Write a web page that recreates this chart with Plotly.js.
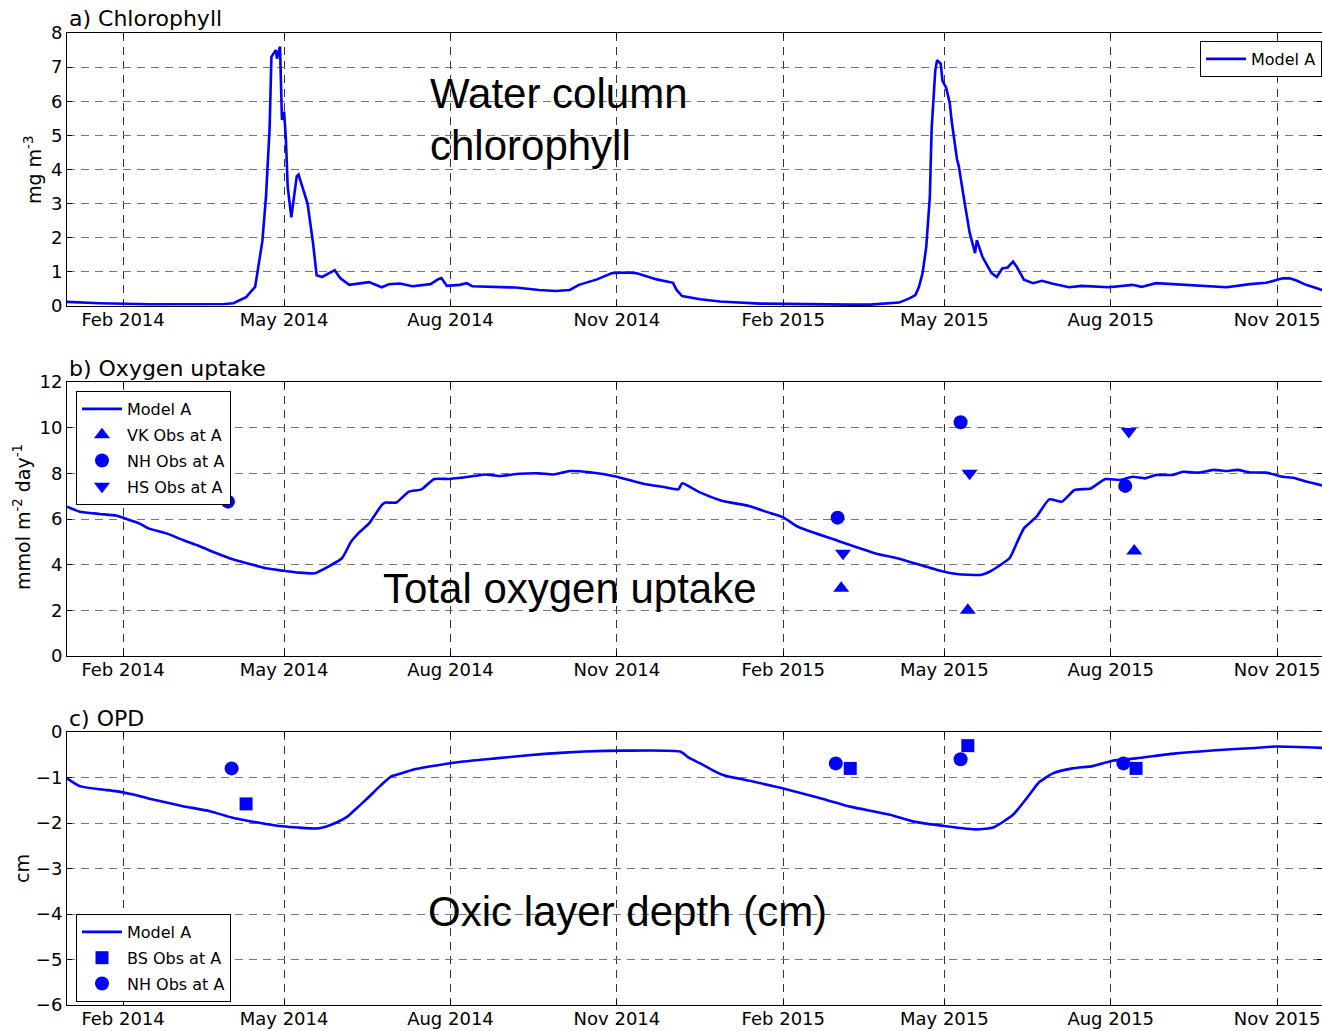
<!DOCTYPE html>
<html><head><meta charset="utf-8">
<script src="https://cdn.plot.ly/plotly-3.0.1.min.js"></script>
<style>html,body{margin:0;padding:0;background:#fff;overflow:hidden}</style>
</head><body><div id="chart" style="width:1322px;height:1031px"></div>
<script>
// ---------- data ----------
const xTickVals = ['2014-02-01','2014-05-01','2014-08-01','2014-11-01','2015-02-01','2015-05-01','2015-08-01','2015-11-01'];
const xTickText = ['Feb 2014','May 2014','Aug 2014','Nov 2014','Feb 2015','May 2015','Aug 2015','Nov 2015'];

// a) Chlorophyll, Model A (mg m-3)
const chlDates = ['2014-01-01','2014-01-19','2014-02-16','2014-03-15','2014-03-29','2014-04-03','2014-04-10','2014-04-15','2014-04-17','2014-04-19','2014-04-21','2014-04-23','2014-04-24','2014-04-26 12:00','2014-04-27 02:00','2014-04-28 18:00','2014-04-29 20:00','2014-05-01','2014-05-02','2014-05-03','2014-05-05','2014-05-08','2014-05-09','2014-05-12','2014-05-14','2014-05-17','2014-05-19','2014-05-22','2014-05-29','2014-06-01','2014-06-06','2014-06-13','2014-06-17','2014-06-24','2014-06-28','2014-07-04','2014-07-11','2014-07-21','2014-07-25','2014-07-27','2014-07-30','2014-08-06','2014-08-10','2014-08-13','2014-08-26','2014-09-06','2014-09-19','2014-09-28','2014-10-06','2014-10-11','2014-10-21','2014-10-29','2014-11-06','2014-11-12','2014-11-23','2014-12-02','2014-12-04','2014-12-07','2014-12-17','2014-12-28','2015-01-19','2015-02-10','2015-03-10','2015-03-21','2015-04-06','2015-04-12','2015-04-15','2015-04-17','2015-04-19','2015-04-21','2015-04-23','2015-04-24','2015-04-26','2015-04-27','2015-04-29','2015-04-30','2015-05-02','2015-05-04','2015-05-05','2015-05-08','2015-05-09','2015-05-12','2015-05-15','2015-05-18','2015-05-19','2015-05-22','2015-05-27','2015-05-30','2015-06-02','2015-06-05','2015-06-08','2015-06-10','2015-06-14','2015-06-19','2015-06-24','2015-06-30','2015-07-09','2015-07-16','2015-07-31','2015-08-13','2015-08-18','2015-08-26','2015-09-10','2015-10-04','2015-10-17','2015-10-26','2015-11-04','2015-11-08','2015-11-12','2015-11-17','2015-11-23','2015-11-26'];
const chlValues = [0.12,0.08,0.05,0.05,0.06,0.08,0.26,0.56,1.25,1.9,3.2,5.2,7.3,7.5,7.25,7.6,5.45,5.7,4.9,3.5,2.6,3.8,3.85,3.3,3.0,1.85,0.9,0.85,1.05,0.82,0.62,0.67,0.7,0.55,0.64,0.66,0.58,0.64,0.78,0.82,0.59,0.62,0.67,0.58,0.55,0.54,0.47,0.44,0.47,0.62,0.78,0.96,0.98,0.96,0.78,0.68,0.47,0.29,0.2,0.13,0.07,0.05,0.04,0.04,0.1,0.23,0.32,0.56,0.97,1.73,3.2,5.2,6.9,7.2,7.1,6.6,6.4,5.95,5.45,4.3,4.1,3.1,2.15,1.55,1.93,1.45,0.97,0.85,1.1,1.13,1.3,1.15,0.77,0.67,0.74,0.65,0.55,0.59,0.55,0.62,0.56,0.67,0.62,0.55,0.64,0.68,0.81,0.81,0.74,0.62,0.52,0.46];

// b) Total oxygen uptake, Model A (mmol m-2 day-1)
const o2Dates = ['2014-01-01','2014-01-08','2014-01-19','2014-01-28','2014-02-03','2014-02-10','2014-02-15','2014-02-25','2014-03-06','2014-03-15','2014-03-24','2014-04-02','2014-04-12','2014-04-21','2014-04-30','2014-05-09','2014-05-18','2014-05-20','2014-05-26','2014-06-02','2014-06-07','2014-06-11','2014-06-17','2014-06-24','2014-06-26','2014-07-02','2014-07-09','2014-07-16','2014-07-23','2014-07-31','2014-08-11','2014-08-20','2014-08-28','2014-09-08','2014-09-19','2014-09-27','2014-10-06','2014-10-17','2014-11-01','2014-11-16','2014-11-27','2014-12-05','2014-12-07','2014-12-16','2014-12-29','2015-01-13','2015-01-25','2015-02-01','2015-02-09','2015-03-03','2015-03-25','2015-04-05','2015-04-27','2015-05-08','2015-05-21','2015-05-26','2015-06-06','2015-06-10','2015-06-14','2015-06-21','2015-06-28','2015-07-05','2015-07-12','2015-07-21','2015-07-29','2015-08-06','2015-08-13','2015-08-20','2015-08-26','2015-09-04','2015-09-10','2015-09-19','2015-09-27','2015-10-04','2015-10-10','2015-10-17','2015-10-26','2015-11-04','2015-11-10','2015-11-17','2015-11-26'];
const o2Values = [6.54,6.32,6.22,6.15,6.0,5.81,5.59,5.37,5.08,4.82,4.52,4.25,4.03,3.84,3.74,3.65,3.62,3.69,3.94,4.28,5.0,5.37,5.81,6.61,6.72,6.72,7.2,7.3,7.75,7.75,7.85,7.95,7.88,7.98,8.0,7.95,8.1,8.05,7.85,7.53,7.4,7.3,7.56,7.2,6.8,6.57,6.25,6.07,5.66,5.05,4.47,4.28,3.77,3.59,3.55,3.69,4.28,4.94,5.59,6.1,6.86,6.76,7.27,7.34,7.75,7.71,7.85,7.78,7.93,7.93,8.07,8.03,8.15,8.1,8.15,8.04,8.03,7.85,7.81,7.64,7.47];

const vkDates = ['2015-03-05','2015-05-14','2015-08-14'];
const vkValues = [2.97,2.0,4.6];
const nhO2Dates = ['2014-03-31','2015-03-03','2015-05-10','2015-08-09'];
const nhO2Values = [6.76,6.06,10.24,7.45];
const hsDates = ['2015-03-06','2015-05-15','2015-08-11'];
const hsValues = [4.5,8.0,9.83];

// c) Oxic layer depth, Model A (cm)
const opdDates = ['2014-01-01','2014-01-08','2014-01-19','2014-01-28','2014-02-06','2014-02-15','2014-02-25','2014-03-06','2014-03-21','2014-04-02','2014-04-12','2014-04-21','2014-04-30','2014-05-09','2014-05-19','2014-05-24','2014-05-30','2014-06-05','2014-06-10','2014-06-16','2014-06-23','2014-06-29','2014-07-04','2014-07-12','2014-07-25','2014-08-08','2014-08-26','2014-09-22','2014-10-14','2014-11-05','2014-12-06','2014-12-11','2014-12-17','2014-12-23','2014-12-30','2015-01-13','2015-02-01','2015-02-20','2015-03-10','2015-04-01','2015-04-14','2015-05-02','2015-05-19','2015-05-28','2015-06-08','2015-06-17','2015-06-22','2015-06-30','2015-07-11','2015-07-22','2015-08-02','2015-08-15','2015-09-06','2015-09-28','2015-10-20','2015-10-31','2015-11-26'];
const opdValues = [-1.02,-1.19,-1.26,-1.30,-1.37,-1.46,-1.55,-1.63,-1.74,-1.88,-1.96,-2.02,-2.07,-2.10,-2.12,-2.08,-1.99,-1.86,-1.68,-1.46,-1.19,-0.98,-0.92,-0.82,-0.73,-0.65,-0.58,-0.48,-0.43,-0.41,-0.43,-0.57,-0.69,-0.82,-0.95,-1.07,-1.24,-1.44,-1.64,-1.82,-1.97,-2.07,-2.14,-2.10,-1.82,-1.38,-1.12,-0.91,-0.80,-0.75,-0.63,-0.58,-0.47,-0.40,-0.35,-0.32,-0.35];

const bsDates = ['2014-04-10','2015-03-10','2015-05-14','2015-08-15'];
const bsValues = [-1.58,-0.80,-0.30,-0.80];
const nhOpdDates = ['2014-04-02','2015-03-02','2015-05-10','2015-08-08'];
const nhOpdValues = [-0.80,-0.69,-0.60,-0.69];

// ---------- figure ----------
const BLUE = '#0000ff';
const W = 1322, H = 1031, L = 67;
const py = p => 1 - p / H;            // pixel row -> paper fraction
const pxp = p => (p - L) / (W - L);   // pixel column -> paper fraction

const lineStyle = {color: BLUE, width: 2.6};
const traces = [
  {x: chlDates, y: chlValues, type: 'scatter', mode: 'lines', line: lineStyle, name: 'Model A', xaxis: 'x', yaxis: 'y', legend: 'legend'},
  {x: o2Dates, y: o2Values, type: 'scatter', mode: 'lines', line: Object.assign({shape: 'spline', smoothing: 0.5}, lineStyle), name: 'Model A', xaxis: 'x2', yaxis: 'y2', legend: 'legend2', legendgroup: 'b1'},
  {x: vkDates, y: vkValues, type: 'scatter', mode: 'markers', marker: {symbol: 'triangle-up', size: 14, color: BLUE}, name: 'VK Obs at A', xaxis: 'x2', yaxis: 'y2', legend: 'legend2', legendgroup: 'b2'},
  {x: nhO2Dates, y: nhO2Values, type: 'scatter', mode: 'markers', marker: {symbol: 'circle', size: 14, color: BLUE}, name: 'NH Obs at A', xaxis: 'x2', yaxis: 'y2', legend: 'legend2', legendgroup: 'b3'},
  {x: hsDates, y: hsValues, type: 'scatter', mode: 'markers', marker: {symbol: 'triangle-down', size: 14, color: BLUE}, name: 'HS Obs at A', xaxis: 'x2', yaxis: 'y2', legend: 'legend2', legendgroup: 'b4'},
  {x: opdDates, y: opdValues, type: 'scatter', mode: 'lines', line: Object.assign({shape: 'spline', smoothing: 0.5}, lineStyle), name: 'Model A', xaxis: 'x3', yaxis: 'y3', legend: 'legend3', legendgroup: 'c1'},
  {x: bsDates, y: bsValues, type: 'scatter', mode: 'markers', marker: {symbol: 'square', size: 13, color: BLUE}, name: 'BS Obs at A', xaxis: 'x3', yaxis: 'y3', legend: 'legend3', legendgroup: 'c2'},
  {x: nhOpdDates, y: nhOpdValues, type: 'scatter', mode: 'markers', marker: {symbol: 'circle', size: 14, color: BLUE}, name: 'NH Obs at A', xaxis: 'x3', yaxis: 'y3', legend: 'legend3', legendgroup: 'c3'}
];

const tickFont = {family: 'DejaVu Sans', size: 18, color: '#000'};
function xAxis(anchor) {
  return {
    anchor: anchor, domain: [0, 1], type: 'date',
    range: ['2014-01-01', '2015-11-25 19:00'],
    tickmode: 'array', tickvals: xTickVals, ticktext: xTickText,
    showgrid: true, gridcolor: '#333', griddash: '8px,6px', gridwidth: 1,
    showline: true, linecolor: '#000', linewidth: 1, mirror: 'ticks',
    ticks: 'inside', ticklen: 5, tickcolor: '#000', ticklabelstandoff: -3,
    tickfont: tickFont, zeroline: false, fixedrange: true
  };
}
function yAxis(anchor, top, bottom, range, dtick) {
  return {
    anchor: anchor, domain: [py(bottom), py(top)], range: range, dtick: dtick, tick0: 0,
    showgrid: true, gridcolor: '#777', griddash: '8px,6px', gridwidth: 1,
    showline: true, linecolor: '#000', linewidth: 1, mirror: 'ticks',
    ticks: 'inside', ticklen: 5, tickcolor: '#000',
    tickfont: tickFont, zeroline: false, fixedrange: true
  };
}

const legendBase = {
  bgcolor: '#fff', bordercolor: '#000', borderwidth: 1,
  font: {family: 'DejaVu Sans', size: 16, color: '#000'},
  xref: 'paper', yref: 'paper', xanchor: 'left', yanchor: 'top',
  tracegroupgap: 2, itemwidth: 40
};

const bigFont = {family: 'Liberation Sans, Arial, sans-serif', size: 42, color: '#000'};
const titleFont = {family: 'DejaVu Sans', size: 22, color: '#000'};
const yTitleFont = {family: 'DejaVu Sans', size: 19, color: '#000'};

const annotations = [
  {text: 'a) Chlorophyll', x: pxp(67), y: py(33), xref: 'paper', yref: 'paper', xanchor: 'left', yanchor: 'bottom', showarrow: false, font: titleFont},
  {text: 'b) Oxygen uptake', x: pxp(67), y: py(383), xref: 'paper', yref: 'paper', xanchor: 'left', yanchor: 'bottom', showarrow: false, font: titleFont},
  {text: 'c) OPD', x: pxp(67), y: py(733), xref: 'paper', yref: 'paper', xanchor: 'left', yanchor: 'bottom', showarrow: false, font: titleFont},
  {text: 'mg m<sup>-3</sup>', x: pxp(33), y: py(170), xref: 'paper', yref: 'paper', xanchor: 'center', yanchor: 'middle', textangle: -90, showarrow: false, font: yTitleFont},
  {text: 'mmol m<sup>-2</sup> day<sup>-1</sup>', x: pxp(22), y: py(517), xref: 'paper', yref: 'paper', xanchor: 'center', yanchor: 'middle', textangle: -90, showarrow: false, font: yTitleFont},
  {text: 'cm', x: pxp(22), y: py(868), xref: 'paper', yref: 'paper', xanchor: 'center', yanchor: 'middle', textangle: -90, showarrow: false, font: yTitleFont},
  {text: 'Water column', x: pxp(428), y: py(94), xref: 'paper', yref: 'paper', xanchor: 'left', yanchor: 'middle', showarrow: false, font: bigFont},
  {text: 'chlorophyll', x: pxp(428), y: py(145), xref: 'paper', yref: 'paper', xanchor: 'left', yanchor: 'middle', showarrow: false, font: bigFont},
  {text: 'Total oxygen uptake', x: pxp(381), y: py(588), xref: 'paper', yref: 'paper', xanchor: 'left', yanchor: 'middle', showarrow: false, font: bigFont},
  {text: 'Oxic layer depth (cm)', x: pxp(426), y: py(911), xref: 'paper', yref: 'paper', xanchor: 'left', yanchor: 'middle', showarrow: false, font: bigFont}
];

const layout = {
  width: W, height: H,
  margin: {l: L, r: 0, t: 0, b: 0},
  paper_bgcolor: '#fff', plot_bgcolor: '#fff',
  showlegend: true,
  font: {family: 'DejaVu Sans', color: '#000'},
  xaxis: xAxis('y'), xaxis2: xAxis('y2'), xaxis3: xAxis('y3'),
  yaxis: yAxis('x', 33, 306, [0, 8], 1),
  yaxis2: yAxis('x2', 382, 656, [0, 12], 2),
  yaxis3: yAxis('x3', 732, 1005, [-6, 0], 1),
  legend: Object.assign({}, legendBase, {x: 1, xanchor: 'right', y: py(41)}),
  legend2: Object.assign({}, legendBase, {x: pxp(76), y: py(391)}),
  legend3: Object.assign({}, legendBase, {x: pxp(76), y: py(914)}),
  annotations: annotations
};

Plotly.newPlot('chart', traces, layout, {displayModeBar: false, staticPlot: true});
</script></body></html>
